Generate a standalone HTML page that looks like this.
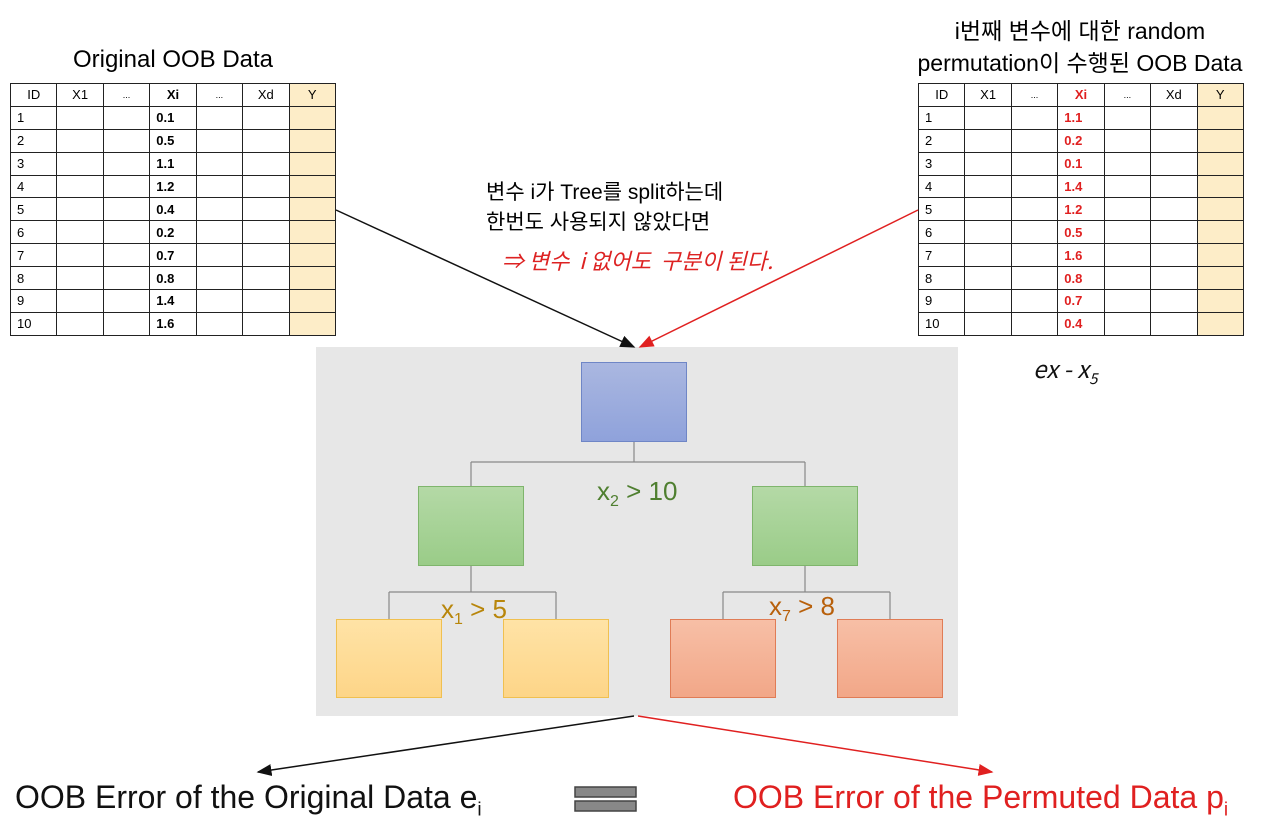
<!DOCTYPE html>
<html><head><meta charset="utf-8">
<style>
body{margin:0;width:1267px;height:825px;background:#fff;position:relative;overflow:hidden;font-family:"Liberation Sans","Noto Sans CJK KR",sans-serif;}
.abs{position:absolute;}
table{border-collapse:collapse;position:absolute;font-size:13px;table-layout:fixed;width:326px;}
td{border:1.3px solid #222;height:22.9px;padding:0 0 0 6px;box-sizing:border-box;overflow:hidden;white-space:nowrap;}
td.y{background:#fdedc8;text-align:center;padding:0;}
td.h{text-align:center;padding:0;}
.box{position:absolute;box-sizing:border-box;}
.lbl{position:absolute;font-size:26px;white-space:nowrap;}
.title{position:absolute;font-size:23px;text-align:center;white-space:nowrap;}
.hand{position:absolute;font-family:"Noto Sans CJK KR",sans-serif;white-space:nowrap;}
</style></head>
<body>
<div class="title" style="left:10px;width:326px;top:46px;font-size:24px;">Original OOB Data</div>
<div class="title" style="left:880px;width:400px;top:15px;line-height:32px;">i번째 변수에 대한 random<br>permutation이 수행된 OOB Data</div>
<table id="tl" style="left:10px;top:83px;"></table>
<table id="tr" style="left:918px;top:83px;"></table>

<div class="hand" style="left:486px;top:178px;font-size:21px;line-height:30px;font-family:'Liberation Sans','Noto Sans CJK KR',sans-serif;">변수 i가 Tree를 split하는데<br>한번도 사용되지 않았다면</div>
<div class="hand" style="left:502px;top:244px;font-size:22px;color:#d22;font-style:italic;">⇒ 변수 &nbsp;<i>i</i> 없어도 &nbsp;구분이 된다.</div>
<div class="hand" style="left:1033px;top:350px;font-size:24px;color:#111;font-style:italic;">ex - x<sub style="font-size:15px">5</sub></div>

<div class="box" style="left:316px;top:347px;width:642px;height:369px;background:#e7e7e7;"></div>
<svg class="abs" style="left:0;top:0" width="1267" height="825">
<defs>
<marker id="ab" markerWidth="10" markerHeight="10" refX="9" refY="5" orient="auto"><path d="M0,1 L10,5 L0,9 Z" fill="#111"/></marker>
<marker id="ar" markerWidth="10" markerHeight="10" refX="9" refY="5" orient="auto"><path d="M0,1 L10,5 L0,9 Z" fill="#e02020"/></marker>
</defs>
<g stroke="#888" stroke-width="1.2" fill="none">
<path d="M634 442 V462 M471 462 H805 M471 462 V486 M805 462 V486"/>
<path d="M471 566 V592 M389 592 H556 M389 592 V619 M556 592 V619"/>
<path d="M805 566 V592 M723 592 H890 M723 592 V619 M890 592 V619"/>
</g>
<line x1="336" y1="210" x2="634" y2="347" stroke="#111" stroke-width="1.5" marker-end="url(#ab)"/>
<line x1="918" y1="210" x2="640" y2="347" stroke="#e02020" stroke-width="1.5" marker-end="url(#ar)"/>
<line x1="634" y1="716" x2="258" y2="772" stroke="#111" stroke-width="1.5" marker-end="url(#ab)"/>
<line x1="638" y1="716" x2="992" y2="772" stroke="#e02020" stroke-width="1.5" marker-end="url(#ar)"/>
<rect x="575" y="787" width="61" height="10" fill="#888" stroke="#444" stroke-width="1.5"/>
<rect x="575" y="801" width="61" height="10" fill="#888" stroke="#444" stroke-width="1.5"/>
</svg>
<div class="box" style="left:581px;top:362px;width:106px;height:80px;background:linear-gradient(#aab7e0,#8fa2db);border:1px solid #6f86c6;"></div>
<div class="box" style="left:418px;top:486px;width:106px;height:80px;background:linear-gradient(#b4d9a6,#9acc88);border:1px solid #7fb56c;"></div>
<div class="box" style="left:752px;top:486px;width:106px;height:80px;background:linear-gradient(#b4d9a6,#9acc88);border:1px solid #7fb56c;"></div>
<div class="box" style="left:336px;top:619px;width:106px;height:79px;background:linear-gradient(#ffe3a6,#fdd588);border:1px solid #f0c050;"></div>
<div class="box" style="left:503px;top:619px;width:106px;height:79px;background:linear-gradient(#ffe3a6,#fdd588);border:1px solid #f0c050;"></div>
<div class="box" style="left:670px;top:619px;width:106px;height:79px;background:linear-gradient(#f7bfa6,#f2a788);border:1px solid #e07c56;"></div>
<div class="box" style="left:837px;top:619px;width:106px;height:79px;background:linear-gradient(#f7bfa6,#f2a788);border:1px solid #e07c56;"></div>
<div class="lbl" style="left:597px;top:476px;color:#4f7f30;">x<sub style="font-size:16px">2</sub> &gt; 10</div>
<div class="lbl" style="left:441px;top:594px;color:#b8860b;">x<sub style="font-size:16px">1</sub> &gt; 5</div>
<div class="lbl" style="left:769px;top:591px;color:#b8600b;">x<sub style="font-size:16px">7</sub> &gt; 8</div>
<div class="lbl" style="left:15px;top:779px;font-size:32px;color:#111;">OOB Error of the Original Data e<sub style="font-size:19px">i</sub></div>
<div class="lbl" style="left:733px;top:779px;font-size:32px;color:#e02020;">OOB Error of the Permuted Data p<sub style="font-size:19px">i</sub></div>
<script>
const headers=["ID","X1","...","Xi","...","Xd","Y"];
const origXi=["0.1","0.5","1.1","1.2","0.4","0.2","0.7","0.8","1.4","1.6"];
const permXi=["1.1","0.2","0.1","1.4","1.2","0.5","1.6","0.8","0.7","0.4"];
function build(id,vals,red){
  const t=document.getElementById(id);
  const hr=document.createElement('tr');
  headers.forEach((h,i)=>{const td=document.createElement('td');td.textContent=h;td.className=i==6?'y':'h';
    if(i==3){td.style.fontWeight='bold';if(red)td.style.color='#e02020';}
    if(h==='...')td.style.fontSize='9px';
    
    
    hr.appendChild(td);});
  t.appendChild(hr);
  vals.forEach((v,r)=>{const tr=document.createElement('tr');
    for(let c=0;c<7;c++){const td=document.createElement('td');
      if(c==0)td.textContent=r+1;
      if(c==3){td.textContent=v;td.style.fontWeight='bold';if(red)td.style.color='#e02020';}
      if(c==6)td.className='y';
      
      
      tr.appendChild(td);}
    t.appendChild(tr);});
}
build('tl',origXi,false);
build('tr',permXi,true);
</script>
</body></html>
